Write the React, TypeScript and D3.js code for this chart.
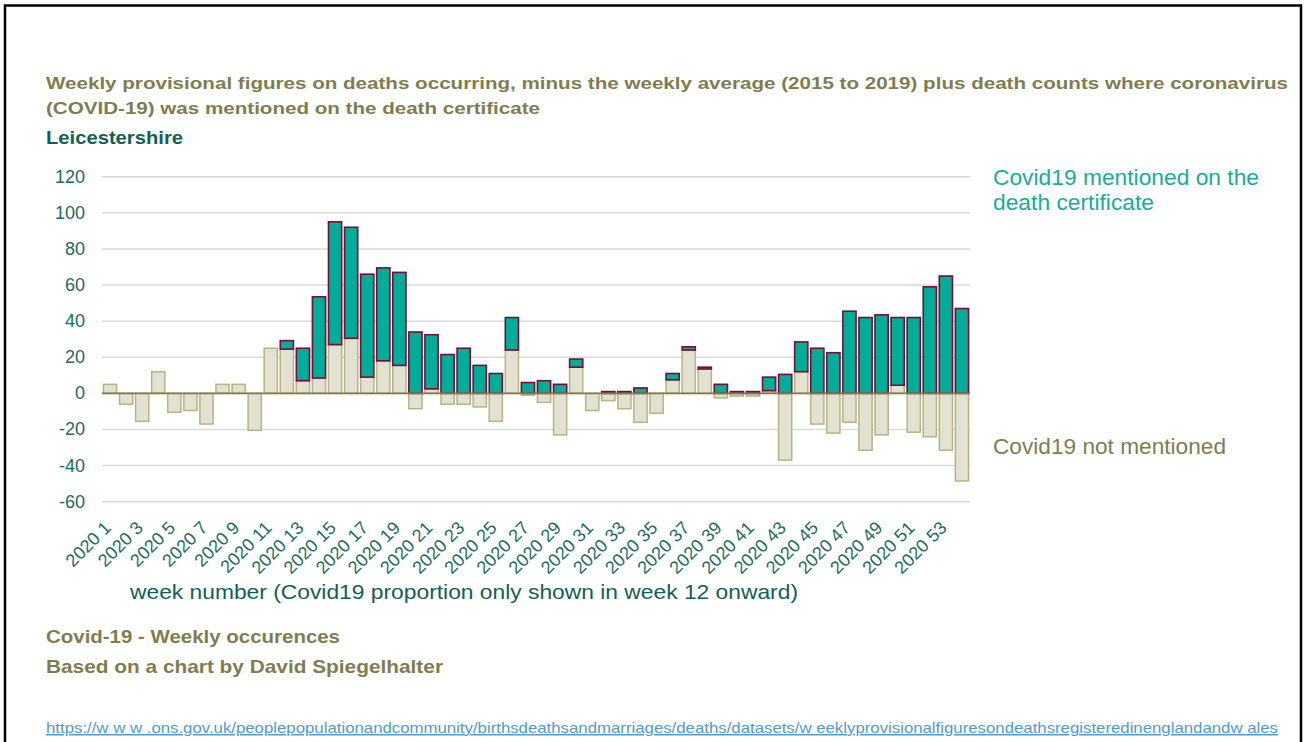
import { useMemo } from 'react'
import * as d3 from 'd3'

// week categories (54th is unlabeled in the source chart)
const WEEKS: string[] = [
  ...d3.range(1, 54).map(w => `2020 ${w}`),
  '2021 1',
]

// deaths minus 5yr average, covid not mentioned
const NOT_MENTIONED = [
  5, -6, -15.5, 12, -10.5, -9.5, -17, 5, 5, -20.5,
  25, 24.5, 7, 8.5, 27, 30.5, 9, 18, 15.5, -8.5,
  2.5, -6, -6, -7.5, -15.5, 24, -1, -5, -23, 14.5,
  -9.5, -4, -8.5, -16, -11, 7.5, 24, 13.5, -2.5, -1.5,
  -1.5, 1.5, -37, 12, -17, -22, -16, -31.5, -23, 4.5,
  -21.5, -24, -31.5, -48.5,
]

// covid mentioned on certificate (only shown from week 12)
const MENTIONED: (number | null)[] = [
  null, null, null, null, null, null, null, null, null, null,
  null, 4.7, 18, 45, 68, 61.5, 57, 51.5, 51.5, 34,
  30, 21.5, 25, 15.5, 11, 18, 6, 7, 5, 4.5,
  0, 1, 1, 3, 0, 3.5, 1.8, 1, 5, 1,
  1, 7.5, 10.5, 16.5, 25, 22.5, 45.5, 42, 43.5, 37.5,
  42, 59, 65, 47,
]

const Y_TICKS = [-60, -40, -20, 0, 20, 40, 60, 80, 100, 120]

const OLIVE = '#7f7d50'
const DARK_TEAL = '#115f57'
const TICK_TEAL = '#1c6b62'
const TEAL = '#00ad9b'
const CRIMSON = '#7d0b33'
const BEIGE = '#e3e1d2'
const BEIGE_LINE = '#b7b482'

export default function App() {
  const W = 1306
  const H = 742
  const M = { left: 102, right: 970, top: 176.7, bottom: 501.7 }

  const x = useMemo(
    () => d3.scaleBand<string>().domain(WEEKS).range([M.left, M.right]).paddingInner(0.18).paddingOuter(0.09),
    []
  )
  const y = useMemo(
    () => d3.scaleLinear().domain([-60, 120]).range([M.bottom, M.top]),
    []
  )

  const bw = x.bandwidth()

  return (
    <svg
      width={W}
      height={H}
      style={{ position: 'absolute', left: 0, top: 0, background: '#fff' }}
      fontFamily="'Liberation Sans', Arial, sans-serif"
    >
      <rect x={5} y={5.5} width={1296} height={800} fill="none" stroke="#000" strokeWidth={2.5} />

      {/* titles */}
      <text x={46} y={89} fontSize={17} fontWeight="bold" fill={OLIVE} textLength={1242} lengthAdjust="spacingAndGlyphs">
        Weekly provisional figures on deaths occurring, minus the weekly average (2015 to 2019) plus death counts where coronavirus
      </text>
      <text x={46} y={114} fontSize={17} fontWeight="bold" fill={OLIVE} textLength={494} lengthAdjust="spacingAndGlyphs">
        (COVID-19) was mentioned on the death certificate
      </text>
      <text x={46} y={144} fontSize={18} fontWeight="bold" fill={DARK_TEAL} textLength={137} lengthAdjust="spacingAndGlyphs">
        Leicestershire
      </text>

      {/* gridlines */}
      {Y_TICKS.filter(t => t !== 0).map(t => (
        <line key={t} x1={M.left} x2={M.right} y1={y(t)} y2={y(t)} stroke="#d9d9d9" strokeWidth={1.5} />
      ))}
      {Y_TICKS.map(t => (
        <text key={t} x={85} y={y(t)} textAnchor="end" dominantBaseline="central" fontSize={18} fill={TICK_TEAL}>
          {t}
        </text>
      ))}

      {/* covid not mentioned */}
      {WEEKS.map((w, i) => {
        const v = NOT_MENTIONED[i]
        const y0 = y(Math.max(v, 0))
        const y1 = y(Math.min(v, 0))
        return (
          <rect key={w} x={x(w)} y={y0} width={bw} height={Math.max(y1 - y0, 0.5)}
            fill={BEIGE} stroke={BEIGE_LINE} strokeWidth={1.5} />
        )
      })}

      {/* covid mentioned, stacked on positive part */}
      {WEEKS.map((w, i) => {
        const c = MENTIONED[i]
        if (c == null || c <= 0) return null
        const base = Math.max(NOT_MENTIONED[i], 0)
        const y0 = y(base + c)
        const y1 = y(base)
        return (
          <rect key={w} x={x(w)} y={y0} width={bw} height={y1 - y0}
            fill={TEAL} stroke={CRIMSON} strokeWidth={1.6} />
        )
      })}

      <line x1={M.left} x2={M.right} y1={y(0)} y2={y(0)} stroke="#7f7b4f" strokeWidth={1.8} />

      {/* x tick labels, every second week */}
      {WEEKS.map((w, i) => {
        if (i % 2 !== 0) return null
        const cx = (x(w) ?? 0) + bw / 2
        return (
          <text key={w} transform={`translate(${cx + 2},529) rotate(-45)`} textAnchor="end"
            fontSize={18} fill={TICK_TEAL}>
            {w}
          </text>
        )
      })}

      <text x={130} y={599} fontSize={21} fill={DARK_TEAL} textLength={668} lengthAdjust="spacingAndGlyphs">
        week number (Covid19 proportion only shown in week 12 onward)
      </text>

      {/* legend labels */}
      <text x={993} y={185} fontSize={22} fill="#17ad99" textLength={266} lengthAdjust="spacingAndGlyphs">
        Covid19 mentioned on the
      </text>
      <text x={993} y={210} fontSize={22} fill="#17ad99" textLength={161} lengthAdjust="spacingAndGlyphs">
        death certificate
      </text>
      <text x={993} y={454} fontSize={22} fill={OLIVE} textLength={233} lengthAdjust="spacingAndGlyphs">
        Covid19 not mentioned
      </text>

      {/* footer */}
      <text x={46} y={643} fontSize={19} fontWeight="bold" fill={OLIVE} textLength={294} lengthAdjust="spacingAndGlyphs">
        Covid-19 - Weekly occurences
      </text>
      <text x={46} y={673} fontSize={19} fontWeight="bold" fill={OLIVE} textLength={397} lengthAdjust="spacingAndGlyphs">
        Based on a chart by David Spiegelhalter
      </text>
      <text x={46} y={733} fontSize={15} fill="#4f9bd6" textDecoration="underline" textLength={1232} lengthAdjust="spacingAndGlyphs">
        https://w w w .ons.gov.uk/peoplepopulationandcommunity/birthsdeathsandmarriages/deaths/datasets/w eeklyprovisionalfiguresondeathsregisteredinenglandandw ales
      </text>
    </svg>
  )
}
